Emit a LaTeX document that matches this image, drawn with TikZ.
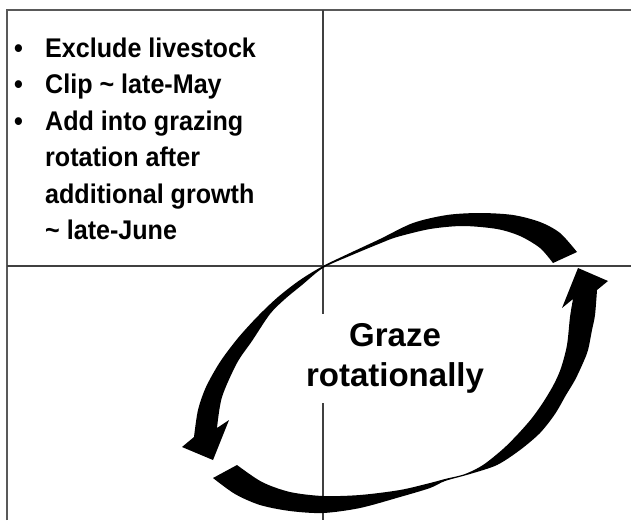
\documentclass[tikz,border=0pt]{standalone}
\usepackage{fontspec}
\setmainfont{Liberation Sans}
\newfontfamily\notefont{Liberation Sans Bold}[FakeStretch=0.93]

\tikzset{
  gridline/.style={line width=1.3pt, black!75},
  cyclearrow/.style={fill=black},
  notetext/.style={anchor=north west, inner sep=0pt, font=\notefont\fontsize{27}{36.5}\selectfont},
  centretext/.style={fill=white, inner sep=10pt, align=center, font=\fontsize{33}{40}\selectfont\bfseries}
}

\begin{document}
\begin{tikzpicture}[x=1pt,y=-1pt]
    \useasboundingbox (0,0) rectangle (631,520);
    % table frame and quadrant lines
    \draw[gridline, black!65, line width=1.5pt] (7,520) -- (7,10) -- (631,10);
    \draw[gridline] (323,10) -- (323,520);
    \draw[gridline] (7,266) -- (631,266);
    % notes in the upper left quadrant
    \node[notetext] (notes) at (14,31.45) {%
      \begin{tabular}{@{}l@{\hspace{22.2pt}}l@{}}
        \textbullet & Exclude livestock\\
        \textbullet & Clip \textasciitilde{} late-May\\
        \textbullet & Add into grazing\\
                    & rotation after\\
                    & additional growth\\
                    & \textasciitilde{} late-June
      \end{tabular}};
    \node[centretext] (graze) at (395,358.5) {Graze\\rotationally};
    % upper arrow, runs over the top and down the left side
    \fill[cyclearrow] (577,252) -- plot[smooth] coordinates {(577,252) (560,233) (540,222) (513,215) (480,213) (447,215) (413,223) (380,239) (350,253) (323,266) (300,280) (278,297) (258,316) (238,338) (220,362) (206,387) (198,410) (194,437)}
        -- (182,447) -- (213,460) -- (229,420) -- (217,428)
        -- plot[smooth] coordinates {(217,428) (222,397) (237,363) (252,341) (270,314) (285,299) (302,285) (323,268) (352,255) (381,243) (397,237) (430,229) (463,226) (497,229) (520,236) (540,248) (553,263)} -- cycle;
    % lower arrow, runs along the bottom and up the right side
    \fill[cyclearrow] (213,478) -- plot[smooth] coordinates {(213,478) (235,494) (260,505) (290,511) (323,513) (360,508) (400,497) (430,488) (445,481) (470,474) (497,465) (520,450) (540,433) (555,414) (566,395) (575,380) (583,363) (588,350) (592,330) (595,315) (597,290)}
        -- (608,281) -- (578,268) -- (562,308) -- (573,299)
        -- plot[smooth] coordinates {(573,299) (570,317) (567,345) (561,368) (554,384) (544,401) (532,418) (518,434) (503,449) (483,465) (465,474) (445,479) (430,483) (400,490) (360,495) (323,496) (290,492) (262,482) (237,465)} -- cycle;
\end{tikzpicture}
\end{document}
